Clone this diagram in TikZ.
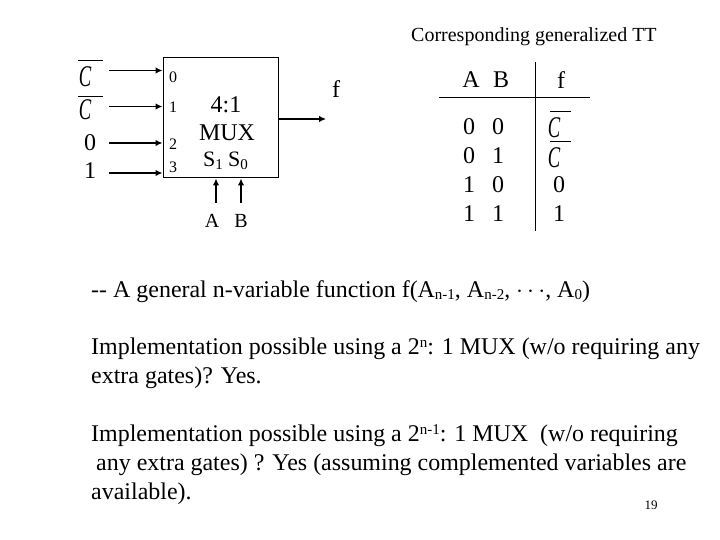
\documentclass[tikz,border=0pt]{standalone}
\usepackage{fontspec}
\setmainfont{Liberation Serif}
\usetikzlibrary{arrows.meta}
\newcommand{\pxsize}[1]{\fontsize{#1pt}{#1pt}\selectfont}
\newcommand{\lowr}[1]{\raisebox{-2.5pt}{\fontsize{15pt}{15pt}\selectfont #1}}
\newcommand{\upr}[1]{\raisebox{6.5pt}{\fontsize{15pt}{15pt}\selectfont #1}}
\tikzset{
  x=1pt,y=-1pt,
  wire/.style={draw=black,line width=1.3pt,-{Latex[length=7pt,width=6.5pt]}},
  rule/.style={draw=black,line width=1pt},
  small/.style={inner sep=0pt,font=\pxsize{16}},
  mid/.style={inner sep=0pt,font=\pxsize{24}},
  tt/.style={inner sep=0pt,font=\pxsize{24}},
  para/.style={inner sep=0pt,anchor=base west,font=\pxsize{23.95}},
  cvar/.style={inner sep=0pt,font=\pxsize{30}\itshape,xscale=0.62},
  over/.style={draw=black,line width=1pt}
}
\begin{document}
\begin{tikzpicture}
\useasboundingbox (0,0) rectangle (720,540);
\fill[white] (0,0) rectangle (720,540);
\node[inner sep=0pt,anchor=base west,font=\pxsize{20}] (title) at (411,42) {Corresponding generalized TT};
% MUX
\node[draw=black,line width=1pt,minimum width=115pt,minimum height=120pt,inner sep=0pt] (mux) at (220.5,118) {};
\node[small] (p0) at (173,77) {0};
\node[small] (p1) at (173,107) {1};
\node[small] (p2) at (173,144) {2};
\node[small] (p3) at (173,167) {3};
\node[mid] (t1) at (226,105) {4:1};
\node[mid] (t2) at (227,133) {MUX};
\node[inner sep=0pt,anchor=base,font=\pxsize{22}] (t3) at (213,167) {S\lowr{1}};
\node[inner sep=0pt,anchor=base,font=\pxsize{22}] (t4) at (238,167) {S\lowr{0}};
% inputs
\node[cvar] (c0) at (85,77) {C};
\draw[over] (78,61) -- (103,61);
\node[cvar] (c1) at (85,110) {C};
\draw[over] (78,96.700) -- (103,96.700);
\node[tt] (i2) at (90,143) {0};
\node[tt] (i3) at (90,171) {1};
\coordinate (a0) at (109,70.500);
\coordinate (a1) at (109,106.500);
\coordinate (a2) at (109,143);
\coordinate (a3) at (109,173);
\draw[wire] (a0) -- (a0-|mux.west);
\draw[wire] (a1) -- (a1-|mux.west);
\draw[wire] (a2) -- (a2-|mux.west);
\draw[wire] (a3) -- (a3-|mux.west);
\coordinate (o) at (326,119);
\draw[wire] (o-|mux.east) -- (o);
\node[mid] (f) at (336,89) {f};
\node[mid,font=\pxsize{20}] (sa) at (212,221) {A};
\node[mid,font=\pxsize{20}] (sb) at (241,221) {B};
\coordinate (sA) at (216,203);
\coordinate (sB) at (241,203);
\draw[wire] (sA) -- (sA|-mux.south);
\draw[wire] (sB) -- (sB|-mux.south);
% table
\coordinate (h1) at (439,98);
\coordinate (h2) at (590,98);
\coordinate (v1) at (535,62);
\coordinate (v2) at (535,231);
\draw[rule] (h1) -- (h2);
\draw[rule] (v1) -- (v2);
\node[tt] (ha) at (471,80) {A};
\node[tt] (hb) at (501,80) {B};
\node[tt] (hf) at (561,80) {f};
\node[tt] (r00) at (469,127) {0};
\node[tt] (r01) at (498,127) {0};
\node[tt] (r10) at (469,156) {0};
\node[tt] (r11) at (498,156) {1};
\node[tt] (r20) at (469,185) {1};
\node[tt] (r21) at (498,185) {0};
\node[tt] (r30) at (469,214) {1};
\node[tt] (r31) at (498,214) {1};
\node[cvar] (f0) at (554,128) {C};
\draw[over] (550,112) -- (571,112);
\node[cvar] (f1) at (554,158) {C};
\draw[over] (550,142) -- (571,142);
\node[tt] (f2) at (559,185) {0};
\node[tt] (f3) at (559,214) {1};
% paragraphs
\node[para] (l1) at (91,297) {-{}- A general n-variable function f(A\lowr{n-1}, A\lowr{n-2}, $\cdots$, A\lowr{0})};
\node[para] (l2) at (91,354) {Implementation possible using a 2\upr{n}: 1 MUX (w/o requiring any};
\node[para] (l3) at (91,383) {extra gates)? Yes.};
\node[para] (l4) at (91,441) {Implementation possible using a 2\upr{n-1}: 1 MUX\ \ (w/o requiring};
\node[para] (l5) at (96,470) {any extra gates) ? Yes (assuming complemented variables are};
\node[para] (l6) at (91,499) {available).};
\node[inner sep=0pt,font=\pxsize{13}] (pg) at (651,505) {19};
\end{tikzpicture}
\end{document}
